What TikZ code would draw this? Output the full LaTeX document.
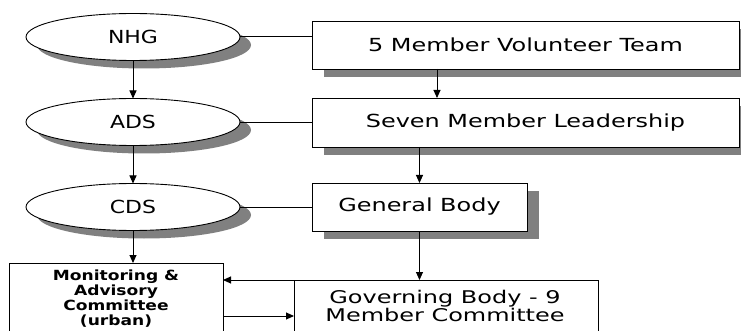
\documentclass[tikz,border=0pt]{standalone}
\usepackage{fontspec}
\setmainfont{DejaVu Sans}[FakeStretch=1.22]
\newfontfamily\widefont{DejaVu Sans}[FakeStretch=1.33]
\newfontfamily\govfont{DejaVu Sans}[FakeStretch=1.37]
\usetikzlibrary{shapes.geometric,arrows.meta,shadows}
\begin{document}
\begin{tikzpicture}[x=1pt,y=-1pt,
  every node/.style={inner sep=0pt,outer sep=0pt},
  ell/.style={ellipse,draw=black,fill=white,line width=0.9pt,minimum width=214pt,minimum height=47pt,font=\fontsize{18}{18}\selectfont,
    drop shadow={shadow xshift=11pt,shadow yshift=-8pt,fill=black!50,opacity=1}},
  box/.style={rectangle,draw=black,fill=white,line width=0.9pt,font=\widefont\fontsize{18}{18}\selectfont,
    drop shadow={shadow xshift=12pt,shadow yshift=-8pt,fill=black!50,opacity=1}},
  plainbox/.style={rectangle,draw=black,fill=white,line width=0.9pt},
  conn/.style={line width=0.9pt},
  arr/.style={line width=0.9pt,-{Triangle[length=8pt,width=7pt]}}]
\clip (0,0) rectangle (741,331);
\fill[white] (0,0) rectangle (741,331);
% ellipses
\node[ell] (nhg) at (133,37) {NHG};
\node[ell] (ads) at (133,122) {ADS};
\node[ell] (cds) at (133,207) {CDS};
% boxes
\node[box,minimum width=427pt,minimum height=48pt] (vol) at (525.5,45) {\raisebox{-1pt}{5 Member Volunteer Team}};
\node[box,minimum width=427pt,minimum height=49pt] (lead) at (525.5,122.5) {\raisebox{-1pt}{Seven Member Leadership}};
\node[box,minimum width=215pt,minimum height=48pt] (gen) at (419.5,207) {\raisebox{-1pt}{General Body}};
% bottom boxes (cut off)
\node[plainbox,minimum width=214pt,minimum height=90pt,anchor=north west] (mon) at (9,263) {};
\node[align=center,font=\bfseries\fontsize{14}{15.2}\selectfont] (montxt) at (116,298.5) {Monitoring \&\\Advisory\\Committee\\(urban)};
\node[plainbox,minimum width=304pt,minimum height=80pt,anchor=north west] (gov) at (294,280) {};
\node[align=center,font=\govfont\fontsize{17.5}{18}\selectfont] (govtxt) at (445,306) {Governing Body - 9\\Member Committee};
% connectors
\coordinate (nhgR) at (241,36);
\draw[conn] (nhg.east |- nhgR) -- (vol.west |- nhgR);
\draw[conn] (ads.east) -- (lead.west |- ads.east);
\draw[conn] (cds.east) -- (gen.west |- cds.east);
\draw[arr] (nhg.south) -- (ads.north);
\draw[arr] (ads.south) -- (cds.north);
\draw[arr] (cds.south) -- (mon.north -| cds.south);
\coordinate (volA) at (437,0);
\draw[arr] (vol.south -| volA) -- (lead.north -| volA);
\draw[arr] (lead.south -| gen.north) -- (gen.north);
\draw[arr] (gen.south) -- (gov.north -| gen.south);
\draw[arr] (gov.north west) -- (mon.east |- gov.north west);
\coordinate (lowA) at (0,316);
\draw[arr] (mon.east |- lowA) -- (gov.west |- lowA);
\end{tikzpicture}
\end{document}
